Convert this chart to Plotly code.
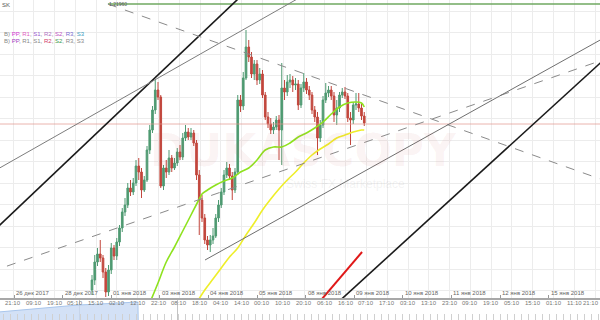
import plotly.graph_objects as go

# ---------------- data ----------------
open_ = [1.1910,1.1920,1.1938,1.1946,1.1942,1.1928,1.1908,1.1930,1.1952,1.1944,
         1.1958,1.1972,1.1988,1.1995,1.2012,1.2008,1.2017,1.2034,1.2028,1.2010,
         1.2020,1.2050,1.2070,1.2090,1.2110,1.2103,1.2014,1.2032,1.2028,1.2042,
         1.2032,1.2037,1.2048,1.2043,1.2062,1.2068,1.2063,1.2067,1.2057,1.2025,
         1.2000,1.1982,1.1960,1.1955,1.1960,1.1964,1.1982,1.1995,1.2008,1.2025,
         1.2032,1.2024,1.2010,1.2028,1.2100,1.2094,1.2122,1.2153,1.2143,1.2126,
         1.2136,1.2120,1.2126,1.2105,1.2083,1.2076,1.2070,1.2073,1.2080,1.2070,
         1.2112,1.2108,1.2118,1.2120,1.2115,1.2116,1.2095,1.2112,1.2118,1.2110,
         1.2105,1.2090,1.2083,1.2062,1.2075,1.2100,1.2107,1.2110,1.2104,1.2085,
         1.2092,1.2105,1.2108,1.2104,1.2082,1.2080,1.2095,1.2096,1.2092,1.2084]
high = [1.1925,1.1945,1.1952,1.1960,1.1945,1.1932,1.1935,1.1957,1.1955,1.1962,
        1.1975,1.1992,1.2002,1.2017,1.2020,1.2022,1.2040,1.2042,1.2032,1.2024,
        1.2054,1.2075,1.2094,1.2120,1.2118,1.2105,1.2035,1.2040,1.2050,1.2045,
        1.2042,1.2052,1.2055,1.2067,1.2075,1.2072,1.2072,1.2070,1.2060,1.2030,
        1.2005,1.1986,1.1964,1.1965,1.1972,1.1986,1.2000,1.2012,1.2030,1.2038,
        1.2036,1.2028,1.2032,1.2105,1.2105,1.2128,1.2170,1.2160,1.2148,1.2140,
        1.2140,1.2132,1.2130,1.2108,1.2088,1.2082,1.2078,1.2084,1.2085,1.2137,
        1.2120,1.2125,1.2126,1.2124,1.2122,1.2120,1.2116,1.2127,1.2122,1.2114,
        1.2108,1.2094,1.2088,1.2080,1.2104,1.2117,1.2114,1.2114,1.2108,1.2100,
        1.2108,1.2112,1.2113,1.2107,1.2088,1.2098,1.2107,1.2107,1.2096,1.2088]
low = [1.1905,1.1915,1.1934,1.1938,1.1922,1.1903,1.1904,1.1926,1.1940,1.1940,
       1.1954,1.1968,1.1984,1.1992,1.2004,1.2005,1.2014,1.2020,1.2002,1.2008,
       1.2018,1.2046,1.2067,1.2086,1.2100,1.2012,1.2010,1.2022,1.2025,1.2028,
       1.2030,1.2034,1.2040,1.2040,1.2059,1.2060,1.2060,1.2054,1.2020,1.1965,
       1.1978,1.1956,1.1950,1.1948,1.1956,1.1962,1.1978,1.1992,1.2005,1.2022,
       1.2020,1.2000,1.2007,1.2025,1.2088,1.2090,1.2120,1.2138,1.2122,1.2120,
       1.2115,1.2116,1.2102,1.2080,1.2072,1.2066,1.2066,1.2070,1.2040,1.2035,
       1.2100,1.2104,1.2112,1.2108,1.2110,1.2090,1.2092,1.2108,1.2106,1.2100,
       1.2086,1.2078,1.2045,1.2058,1.2072,1.2097,1.2103,1.2100,1.2078,1.2075,
       1.2088,1.2102,1.2101,1.2078,1.2055,1.2076,1.2090,1.2088,1.2080,1.2074]
close = [1.1920,1.1938,1.1946,1.1942,1.1928,1.1908,1.1930,1.1952,1.1944,1.1958,
         1.1972,1.1988,1.1995,1.2012,1.2008,1.2017,1.2034,1.2028,1.2010,1.2020,
         1.2050,1.2070,1.2090,1.2110,1.2103,1.2014,1.2032,1.2028,1.2042,1.2032,
         1.2037,1.2048,1.2043,1.2062,1.2068,1.2063,1.2067,1.2057,1.2025,1.2000,
         1.1982,1.1960,1.1955,1.1960,1.1964,1.1982,1.1995,1.2008,1.2025,1.2032,
         1.2024,1.2010,1.2028,1.2100,1.2094,1.2122,1.2153,1.2143,1.2126,1.2136,
         1.2120,1.2126,1.2105,1.2083,1.2076,1.2070,1.2073,1.2080,1.2070,1.2112,
         1.2108,1.2118,1.2120,1.2115,1.2116,1.2095,1.2112,1.2118,1.2110,1.2105,
         1.2090,1.2083,1.2062,1.2075,1.2100,1.2107,1.2110,1.2104,1.2085,1.2092,
         1.2105,1.2108,1.2104,1.2082,1.2080,1.2095,1.2096,1.2092,1.2084,1.2077]
bars = list(range(len(close)))

ma_fast_x = [21,24,27,30,33,36,39,40,42,45,48,51,54,57,60,63,66,69,72,75,78,81,84,87,90,93,96,98,99]
ma_fast = [1.1897,1.1917,1.1938,1.1953,1.1969,1.1985,1.2001,1.2006,1.2010,1.2015,1.2019,1.2022,
           1.2028,1.2032,1.2040,1.2050,1.2053,1.2053,1.2057,1.2063,1.2067,1.2072,1.2078,1.2086,
           1.2093,1.2097,1.2098,1.2097,1.2093]
ma_slow_x = [38,41,44,47,50,53,56,59,62,65,68,71,74,77,80,83,86,89,92,95,98,99]
ma_slow = [1.1897,1.1910,1.1921,1.1932,1.1943,1.1952,1.1965,1.1977,1.1990,1.2001,1.2011,
           1.2020,1.2028,1.2037,1.2045,1.2051,1.2056,1.2062,1.2065,1.2068,1.2070,1.2070]

# trend lines: (x0, x1), (y0, y1)
trend_black_1 = ((-40, 60), (1.1958, 1.2219))
trend_gray_1 = ((-40, 90), (1.2022, 1.2225))
trend_dash_down = ((5.8, 192), (1.2196, 1.2014))
trend_dash_up = ((-37.1, 192), (1.1928, 1.2146))
trend_gray_2 = ((41.1, 192), (1.1940, 1.2171))
trend_black_2 = ((88.4, 192), (1.1895, 1.2155))
trend_red = ((83, 98.2), (1.1899, 1.1948))
level_green = ((5.8, 192), (1.2196, 1.2196))
last_price = 1.2076

vol_x = [-34, -26, -19, -12, -5, 3, 10, 16.7, 16.8]
vol = [8, 10, 11, 13, 15, 16, 17, 18, 0]

time_labels = ["21:10","09:10","19:10","05:10","15:10","02:10","12:10","22:10","08:10","18:10",
               "04:10","14:10","00:10","10:10","20:10","06:10","16:10","07:10","17:10","03:10",
               "13:10","23:10","09:10","19:10","05:10","15:10","01:10","11:10","21:10"]
date_labels = ["26 дек 2017","28 дек 2017","01 янв 2018","03 янв 2018","04 янв 2018","05 янв 2018",
               "08 янв 2018","09 янв 2018","10 янв 2018","11 янв 2018","12 янв 2018","15 янв 2018"]

# ---------------- layout geometry ----------------
W, H = 600, 320
PX0, PXSTEP = 92.0, 2.75          # pixel of bar 0, pixels per bar
XR = [-PX0 / PXSTEP, (W - PX0) / PXSTEP]
time_pos = [(13 + 20.79 * k - PX0) / PXSTEP for k in range(len(time_labels))]
date_pos = [(14 + 48.6 * k - PX0) / PXSTEP for k in range(len(date_labels))]
FONT = "Liberation Sans, Arial, sans-serif"

fig = go.Figure()

fig.add_trace(go.Scatter(x=[XR[0] - 5, XR[1] + 5], y=[last_price, last_price], mode="lines",
                         line=dict(color="rgba(225,150,140,0.7)", width=1), hoverinfo="skip"))

fig.add_trace(go.Candlestick(x=bars, open=open_, high=high, low=low, close=close,
                             increasing=dict(line=dict(color="#4f9a72", width=1), fillcolor="#4f9a72"),
                             decreasing=dict(line=dict(color="#c2473d", width=1), fillcolor="#c2473d"),
                             whiskerwidth=0))

fig.add_trace(go.Scatter(x=ma_fast_x, y=ma_fast, mode="lines", line=dict(color="#8ee21e", width=1.6, shape="spline")))
fig.add_trace(go.Scatter(x=ma_slow_x, y=ma_slow, mode="lines", line=dict(color="#eeee2a", width=1.6, shape="spline")))

def tl(seg, color, width, dash="solid"):
    fig.add_trace(go.Scatter(x=list(seg[0]), y=list(seg[1]), mode="lines",
                             line=dict(color=color, width=width, dash=dash), hoverinfo="skip"))

tl(level_green, "#6fa860", 1.3)
tl(trend_black_1, "#1a1a1a", 1.6)
tl(trend_gray_1, "#7d7d7d", 1)
tl(trend_dash_down, "#8a8a8a", 1, "dash")
tl(trend_dash_up, "#8a8a8a", 1, "dash")
tl(trend_gray_2, "#6f6f6f", 1)
tl(trend_black_2, "#1a1a1a", 1.6)
tl(trend_red, "#e01818", 2)

# date axis helper trace
fig.add_trace(go.Scatter(x=[XR[0]], y=[1.1950], xaxis="x2", yaxis="y", mode="markers",
                         marker=dict(opacity=0), hoverinfo="skip"))

# volume-like bottom panel
fig.add_trace(go.Scatter(x=vol_x, y=vol, xaxis="x3", yaxis="y3", mode="lines", fill="tozeroy",
                         line=dict(color="#a9c6ec", width=1), fillcolor="rgba(200,218,244,0.8)",
                         hoverinfo="skip"))

fig.update_layout(
    width=W, height=H, margin=dict(l=0, r=0, t=0, b=0),
    paper_bgcolor="white", plot_bgcolor="white", showlegend=False,
    font=dict(family=FONT, size=6, color="#666"), boxgap=0.15,
    xaxis=dict(domain=[0, 1], range=XR, anchor="y", tickmode="array", tickvals=time_pos,
               showticklabels=False, showgrid=True, gridcolor="#ececec", gridwidth=1,
               showline=True, linecolor="#a8a8a8", linewidth=2, ticks="", zeroline=False,
               rangeslider=dict(visible=False), automargin=False, fixedrange=True),
    xaxis2=dict(overlaying="x", anchor="y", side="bottom", range=XR, tickmode="array",
                tickvals=date_pos, showticklabels=False, ticks="inside", ticklen=3,
                tickcolor="#999", showgrid=False, showline=False, zeroline=False,
                automargin=False, fixedrange=True),
    yaxis=dict(domain=[22 / H, 1], range=[1.1902, 1.2200], showticklabels=False,
               tick0=1.2189, dtick=0.00215, showgrid=True, gridcolor="#ececec",
               zeroline=False, automargin=False, fixedrange=True),
    xaxis3=dict(domain=[0, 1], anchor="y3", range=XR, tickmode="array",
                tickvals=[(79 - PX0) / PXSTEP, (177 - PX0) / PXSTEP], showticklabels=False,
                showgrid=True, gridcolor="#c4c4c4", zeroline=False, showline=False,
                minor=dict(ticks="inside", ticklen=6, tickcolor="#d0d0d0",
                           tick0=(3 - PX0) / PXSTEP, dtick=7 / PXSTEP),
                automargin=False, fixedrange=True),
    yaxis3=dict(domain=[0, 20 / H], range=[0, 20], visible=False, fixedrange=True),
)

ann = []
ann.append(dict(text="<b>DUKASCOPY</b>", xref="paper", yref="paper", x=303 / W, y=1 - 150 / H,
                showarrow=False, font=dict(size=44, family="DejaVu Sans, sans-serif",
                                          color="rgba(205,90,90,0.07)")))
ann.append(dict(text="Swiss FX Marketplace", xref="paper", yref="paper", x=345 / W, y=1 - 184 / H,
                showarrow=False, font=dict(size=12, color="rgba(150,150,150,0.12)")))
ann.append(dict(text="SK", xref="paper", yref="paper", x=0, y=1, xanchor="left", yanchor="top",
                showarrow=False, font=dict(size=6, color="#555")))
leg1 = ('<span style="color:#888">B)</span> <span style="color:#d23ad2">PP</span>, '
        '<span style="color:#e060c0">R1</span>, <span style="color:#9a5ad0">S1</span>, '
        '<span style="color:#b070c0">R2</span>, <span style="color:#c050c0">S2</span>, '
        '<span style="color:#7a6ad0">R3</span>, <span style="color:#3aa0c0">S3</span>')
leg2 = ('<span style="color:#888">B)</span> <span style="color:#a040c0">PP</span>, '
        '<span style="color:#888">R1</span>, <span style="color:#888">S1</span>, '
        '<span style="color:#d03a6a">R2</span>, <span style="color:#3a9a4a">S2</span>, '
        '<span style="color:#888">R3</span>, <span style="color:#888">S3</span>')
ann.append(dict(text=leg1, xref="paper", yref="paper", x=0.003, y=1 - 29 / H, xanchor="left",
                showarrow=False, font=dict(size=6)))
ann.append(dict(text=leg2, xref="paper", yref="paper", x=0.003, y=1 - 36 / H, xanchor="left",
                showarrow=False, font=dict(size=6)))
ann.append(dict(text="1.21960", xref="x", yref="paper", x=level_green[0][0], y=1,
                xanchor="left", yanchor="top", showarrow=False, borderpad=0,
                font=dict(size=5, color="#555")))
for k, (p, t) in enumerate(zip(time_pos, time_labels)):
    last = k == len(time_labels) - 1
    ann.append(dict(text=t, xref="paper" if last else "x", yref="paper",
                    x=1 if last else p, xanchor="right" if last else "center",
                    y=1 - 299 / H, yanchor="top",
                    showarrow=False, borderpad=0, font=dict(size=6, color="#777")))
for p, t in zip(date_pos, date_labels):
    ann.append(dict(text=t, xref="x", yref="paper", x=p, y=1 - 297 / H, xanchor="left",
                    yanchor="bottom", xshift=1, showarrow=False, borderpad=0,
                    font=dict(size=6, color="#666")))
fig.update_layout(annotations=ann)

fig.write_html("out.html")
